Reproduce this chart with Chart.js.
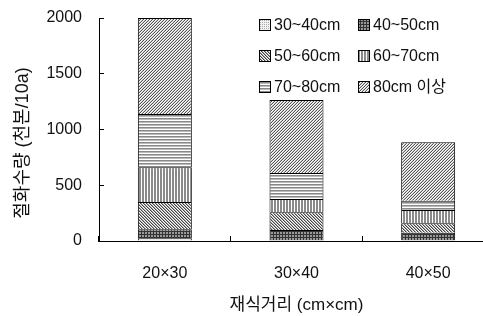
<!DOCTYPE html>
<html><head><meta charset="utf-8">
<script src="https://cdn.jsdelivr.net/npm/chart.js@4"></script>
<style>html,body{margin:0;padding:0;overflow:hidden;background:#fff}#wrap{width:494px;height:316px}</style>
</head><body><div id="wrap"><canvas id="c" width="494" height="316"></canvas></div>
<script>
const categories = ['20×30', '30×40', '40×50'];
const seriesLabels = ['30~40cm', '40~50cm', '50~60cm', '60~70cm', '70~80cm', '80cm 이상'];
const v3040 = [24, 8, 6];
const v4050 = [81, 91, 68];
const v5060 = [245, 158, 85];
const v6070 = [311, 120, 119];
const v7080 = [478, 233, 83];
const v80up = [861, 655, 524];
const yTickValues = [0, 500, 1000, 1500, 2000];
const xTitle = '재식거리 (cm×cm)';
const yTitle = '절화수량 (천본/10a)';

const FONT = "'Liberation Sans', 'Noto Sans CJK KR', sans-serif";

function pat(w, h, fn) {
  const c = document.createElement('canvas'); c.width = w; c.height = h;
  const x = c.getContext('2d');
  for (let i = 0; i < w; i++) for (let j = 0; j < h; j++) { x.fillStyle = fn(i, j); x.fillRect(i, j, 1, 1); }
  return x.createPattern(c, 'repeat');
}
const patterns = [
  pat(2, 2, (i, j) => (i === 0 && j === 0) ? '#aaa' : '#f2f2f2'),
  pat(3, 3, (i, j) => (i === 0 || j === 0) ? '#333' : '#999'),
  pat(3, 3, (i, j) => { const k = ((i - j) % 3 + 3) % 3; return k === 0 ? '#444' : (k === 1 ? '#aaa' : '#fff'); }),
  pat(3, 1, (i, j) => i === 0 ? '#fff' : '#8a8a8a'),
  pat(1, 3, (i, j) => j === 0 ? '#fff' : (j === 1 ? '#888' : '#bbb')),
  pat(3, 3, (i, j) => { const k = (i + j) % 3; return k === 0 ? '#555' : (k === 1 ? '#fff' : '#ccc'); })
];
const seriesValues = [v3040, v4050, v5060, v6070, v7080, v80up];

const datasets = seriesLabels.map((lab, k) => ({
  label: lab,
  data: seriesValues[k],
  backgroundColor: patterns[k],
  borderColor: '#000',
  borderWidth: 1,
  barPercentage: 1,
  categoryPercentage: 0.41
}));

const customDraw = {
  id: 'customDraw',
  afterDraw(chart) {
    const ctx = chart.ctx;
    ctx.save();
    ctx.translate(23, 143);
    ctx.rotate(-Math.PI / 2);
    ctx.font = '18px ' + FONT;
    ctx.fillStyle = '#111';
    ctx.textAlign = 'center';
    ctx.textBaseline = 'middle';
    ctx.fillText(yTitle, 0, 0);
    ctx.restore();
    const cols = [259, 358], rows = [25, 55.5, 87];
    ctx.save();
    ctx.font = '16px ' + FONT;
    ctx.textBaseline = 'middle';
    ctx.textAlign = 'left';
    chart.data.datasets.forEach((ds, k) => {
      const x = cols[k % 2], y = rows[Math.floor(k / 2)];
      const bx = Math.round(x), by = Math.round(y - 6);
      ctx.fillStyle = ds.backgroundColor;
      ctx.fillRect(bx, by, 12, 12);
      ctx.strokeStyle = '#000'; ctx.lineWidth = 1;
      ctx.strokeRect(bx + 0.5, by + 0.5, 11, 11);
      ctx.fillStyle = '#111';
      ctx.fillText(ds.label, bx + 15, y + 1);
    });
    ctx.restore();
  }
};

new Chart(document.getElementById('c'), {
  type: 'bar',
  data: { labels: categories, datasets },
  plugins: [customDraw],
  options: {
    responsive: false,
    animation: false,
    layout: { padding: { top: 18, left: 0, right: 0, bottom: 0 } },
    plugins: { legend: { display: false }, tooltip: { enabled: false } },
    scales: {
      x: {
        stacked: true,
        grid: { offset: true, drawOnChartArea: false, tickLength: -5, color: '#000' },
        border: { color: '#000', width: 1 },
        ticks: { font: { family: FONT, size: 16 }, color: '#111', padding: 28 },
        title: { display: true, text: xTitle, font: { family: FONT, size: 17 }, color: '#111', padding: { top: 0, bottom: 0 } },
        afterFit(s) { s.height = 75; }
      },
      y: {
        stacked: true, min: 0, max: 2000,
        afterBuildTicks(s) { s.ticks = yTickValues.map(v => ({ value: v })); },
        grid: { drawOnChartArea: false, tickLength: -5, color: '#000' },
        border: { color: '#000', width: 1 },
        ticks: { font: { family: FONT, size: 16 }, color: '#111', padding: 22, callback: (v) => String(v) },
        afterFit(s) { s.width = 99; s.paddingTop = 0; s.paddingBottom = 0; }
      }
    }
  }
});
</script></body></html>
